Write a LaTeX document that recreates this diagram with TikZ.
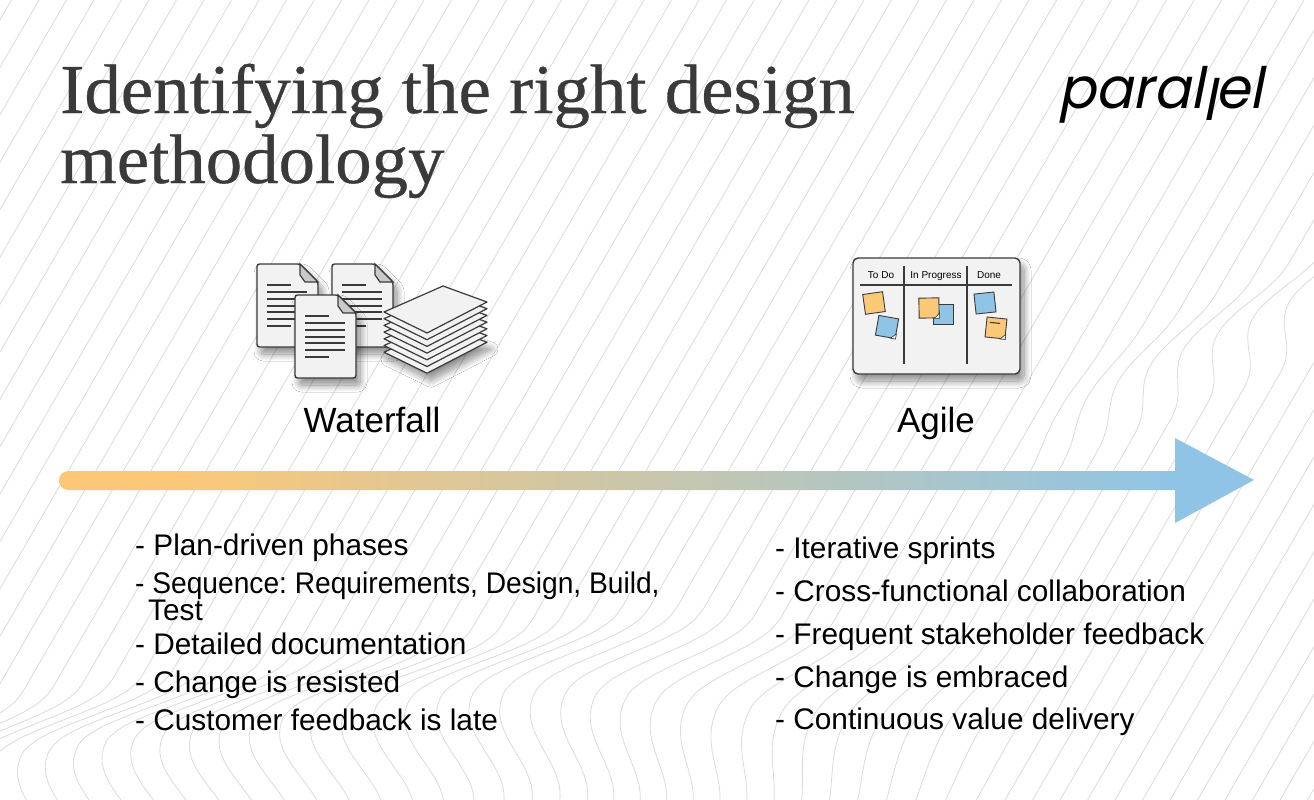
\documentclass[tikz,border=0pt]{standalone}
\usepackage{fontspec}
\setmainfont{Liberation Sans}
\newfontfamily\titlefont[FakeStretch=1.04,FakeBold=0.5]{Liberation Serif}
\newfontfamily\logofont[FakeSlant=0.2,FakeStretch=0.97]{Poppins}
\newfontfamily\narrowfont[FakeStretch=0.945]{Liberation Sans}
\usetikzlibrary{shadows.blur,calc}

\definecolor{bgline}{HTML}{DBDBDB}
\definecolor{inkgray}{HTML}{3A3A3A}
\definecolor{barorange}{HTML}{FBC878}
\definecolor{barblue}{HTML}{8FC4E6}
\definecolor{pagegray}{HTML}{F1F2F1}
\definecolor{foldgray}{HTML}{C9C9C9}
\pgfdeclarehorizontalshading{barfade}{100bp}{color(0bp)=(barorange); color(30bp)=(barorange); color(72bp)=(barblue); color(100bp)=(barblue)}

\begin{document}
\frenchspacing
\begin{tikzpicture}[x=1pt,y=-1pt,
    declare function={bmp(\u)=max(0,1-(\u)*(\u)); bell(\u)=bmp(\u)*bmp(\u)*bmp(\u);},
    softshadow/.style={blur shadow={shadow xshift=4pt,shadow yshift=-7pt,shadow blur radius=7pt,shadow blur steps=14,shadow opacity=45}},
    title text/.style={anchor=base west,inner sep=0pt,text=inkgray,font=\titlefont\fontsize{70}{72}\selectfont},
    column text/.style={anchor=base,inner sep=0pt,font=\fontsize{35}{38}\selectfont},
    list text/.style={anchor=base west,inner sep=0pt,font=\fontsize{29.8}{32}\selectfont},
    board text/.style={anchor=base,inner sep=0pt,font=\fontsize{10}{11}\selectfont},
    sticky/.style={minimum size=20pt,inner sep=0pt,draw=inkgray,line width=0.9pt},
    curl/.style={fill=pagegray,draw=inkgray,line width=0.6pt},
    docpage/.pic={
        \draw[softshadow,fill=pagegray,draw=inkgray,line width=1.4pt,rounded corners=2.5pt] (0,0) -- (43,0) -- (61,18) -- (61,83) -- (0,83) -- cycle;
        \draw[fill=foldgray,draw=inkgray,line width=1.2pt] (43,0) -- (43,11) -- (48,18) -- (61,18) -- cycle;
        \draw[inkgray,line width=1.2pt] (10,21) -- (34,21);
        \foreach \ly in {28,35,42,48,55} \draw[inkgray,line width=1.2pt] (10,\ly) -- (50,\ly);
        \draw[inkgray,line width=1.2pt] (10,62) -- (34,62);
    }]
    \useasboundingbox (0,0) rectangle (1314,800);
    \fill[white] (0,0) rectangle (1314,800);

    % background lines
    \begin{scope}
    \clip (0,0) rectangle (1314,800);
    \foreach \lx in {-480,-452.5,...,1314} {
        \pgfmathsetmacro{\mA}{\lx+64}
        \pgfmathsetmacro{\yA}{690+0.15*max(0,580-\mA)+0.1*max(0,\mA-650)}
        \pgfmathsetmacro{\ampA}{110*bmp((\mA-350)/700)}
        \pgfmathsetmacro{\mB}{\lx+264}
        \pgfmathsetmacro{\yB}{340-0.57*(\mB-1230)}
        \pgfmathsetmacro{\ampB}{32*bmp((\mB-1290)/210)}
        \draw[bgline,line width=0.8pt] plot[smooth,domain=-10:810,samples=70,variable=\t]
            ({\lx+0.58*(800-\t)-\ampA*bell((\t-\yA)/(\t<\yA?85:140))-\ampB*bell((\t-\yB)/75)},\t);
    }
    \end{scope}

    % title and logo
    \node[title text] (title1) at (60,113) {Identifying the right design};
    \node[title text] (title2) at (60,183) {methodology};
    \node[anchor=base west,inner sep=0pt,font=\logofont\fontsize{57}{70}\selectfont] (logo) at (1058,108) {paral\kern-2pt\raisebox{-12pt}{l}\kern-1pt el};

    % waterfall icon
    \pic at (257,264) {docpage};
    \pic at (332,264) {docpage};
    \pic at (295,295) {docpage};
    \draw[softshadow,fill=pagegray,draw=inkgray,line width=1.2pt,line join=round] (443,326.2) -- (487,342.2) -- (427,373.2) -- (384,352.2) -- cycle;
    \foreach \ls in {5,4,...,0}
        \draw[fill=pagegray,draw=inkgray,line width=1.2pt,line join=round] (443,286+6.7*\ls) -- (487,302+6.7*\ls) -- (427,333+6.7*\ls) -- (384,312+6.7*\ls) -- cycle;

    % agile board
    \draw[softshadow,fill=pagegray,draw=inkgray,line width=1.4pt,rounded corners=5pt] (853,258) rectangle (1020,374);
    \draw[inkgray,line width=1.1pt] (860,285) -- (1012,285);
    \draw[inkgray,line width=1.1pt] (904,266) -- (904,364);
    \draw[inkgray,line width=1.1pt] (967,266) -- (967,364);
    \node[board text] (todo) at (881,278) {To Do};
    \node[board text] (doing) at (936,278) {In Progress};
    \node[board text] (done) at (989,278) {Done};

    \node[sticky,fill=barorange,rotate=8] (s1) at (874,303) {};
    \node[sticky,fill=barblue,rotate=-10] (s2) at (887,327) {};
    \node[sticky,fill=barblue] (s4) at (943,314) {};
    \node[sticky,fill=barorange,rotate=1] (s3) at (929,308) {};
    \node[sticky,fill=barblue,rotate=6] (s5) at (985,303) {};
    \node[sticky,fill=barorange,rotate=-6] (s6) at (996,328) {};
    \draw[curl] (s2.south east) -- ($(s2.south east)!0.25!(s2.south west)$) -- ($(s2.south east)!0.25!(s2.north east)$) -- cycle;
    \draw[curl] (s3.south east) -- ($(s3.south east)!0.25!(s3.south west)$) -- ($(s3.south east)!0.25!(s3.north east)$) -- cycle;
    \draw[curl] (s6.south east) -- ($(s6.south east)!0.25!(s6.south west)$) -- ($(s6.south east)!0.25!(s6.north east)$) -- cycle;
    \draw[inkgray,line width=1.1pt] ($(s6.west)!0.2!(s6.east)+(0,-5)$) -- ($(s6.west)!0.7!(s6.east)+(0,-5)$);

    % column labels
    \node[column text] (waterfall) at (372,432) {Waterfall};
    \node[column text] (agile) at (936,432) {Agile};

    % timeline arrow
    \path[shading=barfade] (1175,471) -- (1175,438) -- (1254,480) -- (1175,523) -- (1175,490) -- (68.5,490) .. controls (55.8,490) and (55.8,471) .. (68.5,471) -- cycle;

    % lists
    \node[list text] (l1) at (135,555) {- Plan-driven phases};
    \node[list text,font=\narrowfont\fontsize{29.8}{32}\selectfont] (l2) at (135,593) {- Sequence: Requirements, Design, Build,};
    \node[list text] (l2b) at (148,620) {Test};
    \node[list text] (l3) at (135,654) {- Detailed documentation};
    \node[list text] (l4) at (135,692) {- Change is resisted};
    \node[list text] (l5) at (135,730) {- Customer feedback is late};

    \node[list text] (r1) at (775,558) {- Iterative sprints};
    \node[list text] (r2) at (775,601) {- Cross-functional collaboration};
    \node[list text] (r3) at (775,644) {- Frequent stakeholder feedback};
    \node[list text] (r4) at (775,687) {- Change is embraced};
    \node[list text] (r5) at (775,729) {- Continuous value delivery};
\end{tikzpicture}
\end{document}
